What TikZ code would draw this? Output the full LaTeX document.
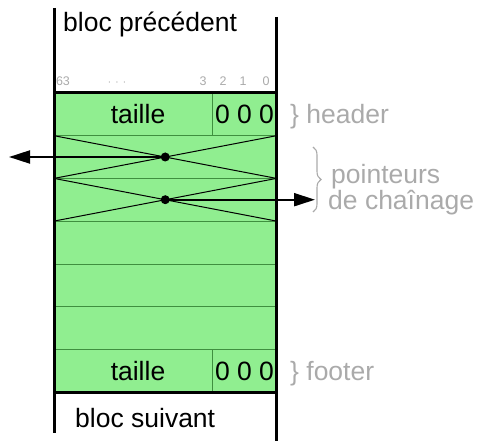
\documentclass[tikz,border=0pt]{standalone}
\usepackage{fontspec}
\setmainfont{Liberation Sans}
\usetikzlibrary{arrows.meta,decorations.pathreplacing}
\definecolor{blockgreen}{HTML}{90EE90}
\definecolor{celledge}{HTML}{3F8F3F}
\definecolor{notegray}{HTML}{AAAAAA}
\begin{document}
\begin{tikzpicture}[x=1pt,y=-1pt,
  wall/.style={line width=3pt},
  cell/.style={draw=celledge, line width=0.8pt},
  crossline/.style={draw=black, line width=1pt},
  big/.style={font=\fontsize{26.5}{30}\selectfont, inner sep=0pt},
  note/.style={font=\fontsize{26.5}{30}\selectfont, text=notegray, inner sep=0pt},
  bit/.style={font=\fontsize{12.5}{14}\selectfont, text=notegray, inner sep=0pt},
  ptr/.style={line width=2pt, -{Triangle[length=21pt,width=13pt]}},
  ptrdot/.style={circle, fill=black, inner sep=0pt, minimum size=9pt}]
\useasboundingbox (0,0) rectangle (477,441);
% block
\fill[blockgreen] (54,93) rectangle (276.5,392);
\foreach \y in {135.7,178.4,221.1,263.9,306.6,349.3}
  \draw[cell] (54,\y) -- (276.5,\y);
\draw[cell] (212,93) -- (212,135.7);
\draw[cell] (212,349.3) -- (212,392);
% crosses
\draw[crossline] (54,135.7) -- (276.5,178.4);
\draw[crossline] (54,178.4) -- (276.5,135.7);
\draw[crossline] (54,178.4) -- (276.5,221.1);
\draw[crossline] (54,221.1) -- (276.5,178.4);
% thick borders
\draw[line width=3pt] (54,93) -- (276.5,93);
\draw[line width=3pt] (54,392) -- (276.5,392);
\draw[wall] (54,8) -- (54,433);
\draw[wall] (276.5,17) -- (276.5,441);
% texts
\node[big, anchor=base west] (prev) at (63,32) {bloc précédent};
\node[big, anchor=base west] (next) at (75,427) {bloc suivant};
\node[big, anchor=base] (htaille) at (138,124) {taille};
\node[big, anchor=base] (hbits) at (244.5,124) {0 0 0};
\node[big, anchor=base] (ftaille) at (138,380) {taille};
\node[big, anchor=base] (fbits) at (244.5,380) {0 0 0};
\node[bit, anchor=base] (b63) at (63,86) {63};
\node[bit, anchor=base] (bdots) at (117,86) {$\cdot$\,\,$\cdot$\,\,$\cdot$};
\node[bit, anchor=base] (b3) at (203,86) {3};
\node[bit, anchor=base] (b2) at (223,86) {2};
\node[bit, anchor=base] (b1) at (243,86) {1};
\node[bit, anchor=base] (b0) at (266,86) {0};
\node[note, anchor=base west] (header) at (290,124) {\} header};
\node[note, anchor=base west] (footer) at (290,380) {\} footer};
\draw[decorate, decoration={brace, amplitude=8pt}, draw=notegray, line width=1.1pt] (313,147) -- (313,212);
\node[note, anchor=base west] (ptr1) at (331,183.5) {pointeurs};
\node[note, anchor=base west] (ptr2) at (328,209.5) {de chaînage};
% pointers
\node[ptrdot] (d1) at (165.25,157) {};
\node[ptrdot] (d2) at (165.25,199.7) {};
\coordinate (e1) at (9,157);
\coordinate (e2) at (315,199.7);
\draw[ptr] (d1.center) -- (e1);
\draw[ptr] (d2.center) -- (e2);
\end{tikzpicture}
\end{document}
